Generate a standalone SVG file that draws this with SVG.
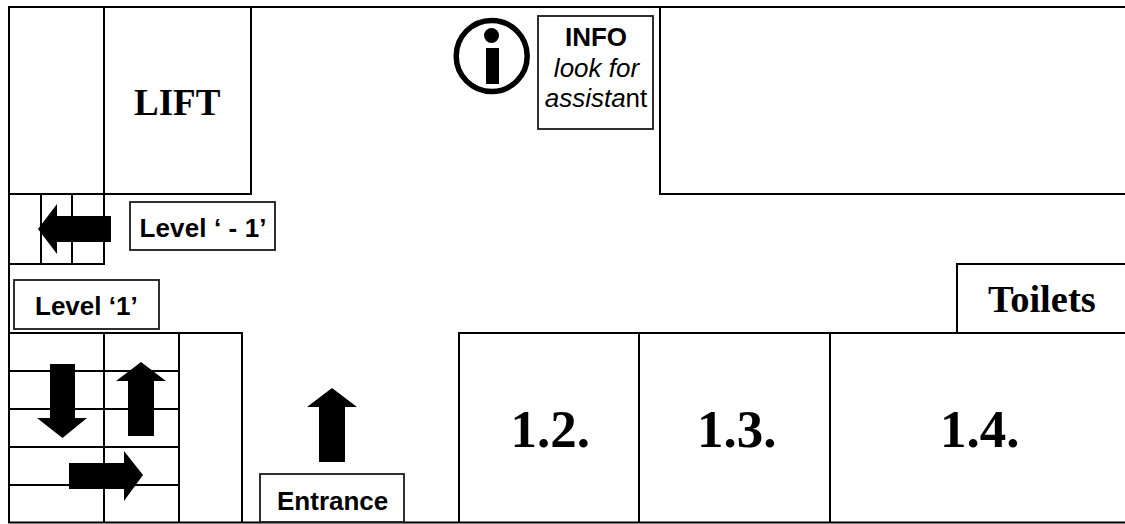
<svg xmlns="http://www.w3.org/2000/svg" width="1125" height="524" viewBox="0 0 1125 524">
<style>
.w{fill:none;stroke:#000;stroke-width:2;stroke-linecap:square}
.b{fill:#fff;stroke:#1a1a1a;stroke-width:1.800}
.a{fill:#000}
text{fill:#000}
.s{font-family:"Liberation Sans",Arial,sans-serif;font-size:26px}
.sb{font-weight:bold}
.t{font-family:"Liberation Serif","Times New Roman",serif;font-weight:bold;font-size:37px}
.n{font-size:53px}
</style>
<rect width="1125" height="524" fill="#fff"/>
<g id="walls" class="w">
<path d="M9 7H1125M9 7V522M9 522.500H1125"/>
<path d="M104 7V264M251 7V194M9 194H251M41 194V264M72 194V264M9 264H104"/>
<path d="M660 7V194H1125"/>
<path d="M9 333H242M104 333V522M179 333V522M242 333V522M9 371H179M9 409H179M9 447H179M9 485H179"/>
<path d="M459 522V333H1125M639 333V522M830 333V522M957 333V264H1125"/>
</g>
<g id="connectors">
<path class="a" d="M38 229L57 204V216H111V242H57V254Z"/>
<path class="a" d="M50 364H75V418H87L62.500 438L37 418H50Z"/>
<path class="a" d="M141 362L166 381H154V436H128V381H116Z"/>
<path class="a" d="M69 463H124V451L143 475L124 501V489H69Z"/>
<path class="a" d="M332 388L357 407H345V462H319V407H307Z"/>
</g>
<g id="lift"><text class="t" x="134" y="114.500">LIFT</text></g>
<g id="info-icon">
<circle cx="491.700" cy="56" r="35.500" fill="none" stroke="#000" stroke-width="5.500"/>
<circle cx="491.500" cy="35.500" r="7.500" class="a"/>
<rect x="486" y="48" width="13" height="36" class="a"/>
</g>
<g id="info">
<rect class="b" x="538" y="16" width="115" height="113"/>
<text class="s sb" x="596" y="45.500" text-anchor="middle">INFO</text>
<text class="s" x="596.500" y="77" text-anchor="middle" font-style="italic">look for</text>
<text class="s" x="596" y="107" text-anchor="middle"><tspan font-style="italic">assista</tspan>nt</text>
</g>
<g id="level-minus-1"><rect class="b" x="130" y="202" width="145" height="48"/><text class="s sb" x="139.500" y="237" textLength="127">Level ‘ - 1’</text></g>
<g id="level-1"><rect class="b" x="14" y="280" width="145" height="49"/><text class="s sb" x="35" y="315">Level ‘1’</text></g>
<g id="entrance"><rect class="b" x="260" y="474" width="144" height="48"/><text class="s sb" x="277" y="510">Entrance</text></g>
<g id="toilets"><text class="t" x="988" y="312" style="font-size:38.500px">Toilets</text></g>
<g id="room-1-2"><text class="t n" x="510.500" y="447">1.2.</text></g>
<g id="room-1-3"><text class="t n" x="697" y="447">1.3.</text></g>
<g id="room-1-4"><text class="t n" x="940" y="447">1.4.</text></g>
</svg>
